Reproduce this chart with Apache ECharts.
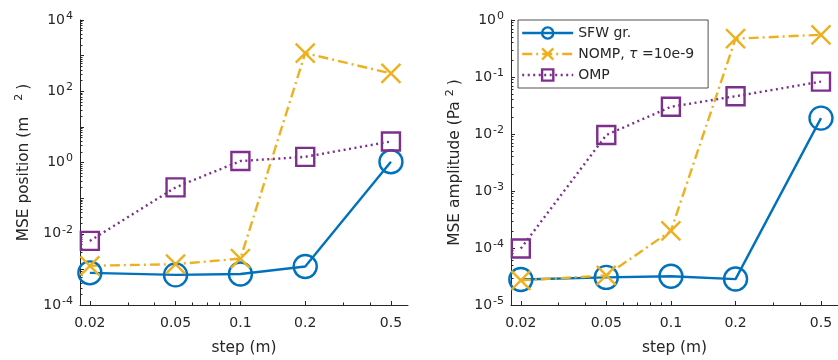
<!DOCTYPE html>
<html>
<head>
<meta charset="utf-8">
<script src="https://cdn.jsdelivr.net/npm/echarts@6/dist/echarts.min.js"></script>
<style>
  html, body { margin: 0; padding: 0; background: #fff; }
  #chart { width: 838px; height: 360px; }
</style>
</head>
<body>
<div id="chart"></div>
<script>
// Step sizes (m)
const steps = [0.02, 0.05, 0.1, 0.2, 0.5];
const stepTicks = [0.02, 0.05, 0.1, 0.2, 0.5];
const stepMinorTicks = [0.03, 0.04, 0.06, 0.07, 0.08, 0.09, 0.3, 0.4];

// MSE of the estimated positions (m^2)
const posSFW = [8.0e-4, 7.0e-4, 7.4e-4, 1.2e-3, 1.05];
const posNOMP = [1.26e-3, 1.4e-3, 2.0e-3, 1180, 316];
const posOMP = [6.3e-3, 0.2, 1.1, 1.44, 3.9];

// MSE of the estimated amplitudes (Pa^2)
const ampSFW = [2.8e-5, 3.05e-5, 3.2e-5, 2.85e-5, 0.019];
const ampNOMP = [2.7e-5, 3.3e-5, 2.0e-4, 0.47, 0.55];
const ampOMP = [9.8e-5, 0.0096, 0.030, 0.046, 0.083];

const seriesNames = ['SFW gr.', 'NOMP, τ =10e-9', 'OMP'];

const FONT = 'DejaVu Sans';
const INK = '#262626';
const BLUE = '#0072BD', YELLOW = '#EDB120', PURPLE = '#7E2F8E';
const CROSS = 'path://M0,0L10,10M10,0L0,10';
const LW = 2.4;
const TICK_FS = 14, NAME_FS = 15.4;

function decades(lo, hi) {
  const major = [], minor = [];
  for (let e = lo; e <= hi; e++) {
    major.push(Math.pow(10, e));
    if (e < hi) for (let k = 2; k <= 9; k++) minor.push(k * Math.pow(10, e));
  }
  return { major, minor };
}

const supRich = {
  b: { fontFamily: FONT, fontSize: TICK_FS, color: INK },
  s: { fontFamily: FONT, fontSize: 11, color: INK, padding: [0, 0, 8, 1] }
};

function powLabel(step) {
  return function (v) {
    const e = Math.round(Math.log10(v));
    if (e % step !== 0) return '';
    return '{b|10}{s|' + e + '}';
  };
}

function xAxes(gridIndex) {
  return [{
    type: 'log', logBase: 10, gridIndex, min: 0.018, max: 0.6, position: 'bottom',
    name: 'step (m)', nameLocation: 'middle', nameGap: 35,
    nameTextStyle: { fontFamily: FONT, fontSize: NAME_FS, color: INK },
    axisLine: { show: true, lineStyle: { color: INK, width: 1 } },
    axisTick: { show: true, inside: true, length: 4, customValues: stepTicks, lineStyle: { color: INK } },
    axisLabel: { customValues: stepTicks, fontFamily: FONT, fontSize: TICK_FS, color: INK, margin: 11,
      formatter: v => String(v) },
    splitLine: { show: false }
  }, {
    type: 'log', logBase: 10, gridIndex, min: 0.018, max: 0.6, position: 'bottom',
    axisLine: { show: false },
    axisTick: { show: true, inside: true, length: 2.5, customValues: stepMinorTicks, lineStyle: { color: INK } },
    axisLabel: { show: false },
    splitLine: { show: false }
  }];
}

function yAxes(gridIndex, lo, hi, labelStep, name, gap) {
  const d = decades(lo, hi);
  return [{
    type: 'log', logBase: 10, gridIndex, min: Math.pow(10, lo), max: Math.pow(10, hi), position: 'left',
    name, nameLocation: 'middle', nameGap: 46,
    nameTextStyle: { fontFamily: FONT, fontSize: NAME_FS, color: INK,
      rich: { s: { fontFamily: FONT, fontSize: 11, color: INK, padding: [0, 4, 9, gap] } } },
    axisLine: { show: true, lineStyle: { color: INK, width: 1 } },
    axisTick: { show: true, inside: true, length: 4, customValues: d.major, lineStyle: { color: INK } },
    axisLabel: { customValues: d.major, formatter: powLabel(labelStep), rich: supRich, margin: 7 },
    splitLine: { show: false }
  }, {
    type: 'log', logBase: 10, gridIndex, min: Math.pow(10, lo), max: Math.pow(10, hi), position: 'left',
    axisLine: { show: false },
    axisTick: { show: true, inside: true, length: 2.5, customValues: d.minor, lineStyle: { color: INK } },
    axisLabel: { show: false },
    splitLine: { show: false }
  }];
}

function pairs(ys) { return steps.map((x, i) => [x, ys[i]]); }

function mkSeries(name, ys, color, symbol, size, dash, xi, yi) {
  return {
    name, type: 'line', xAxisIndex: xi, yAxisIndex: yi,
    data: pairs(ys), symbol, symbolSize: size, clip: false,
    lineStyle: { color, width: LW, type: dash },
    itemStyle: { color: 'rgba(0,0,0,0)', borderColor: color, borderWidth: LW },
    emphasis: { disabled: true }
  };
}

function seriesFor(vals, xi, yi) {
  return [
    mkSeries(seriesNames[0], vals[0], BLUE, 'circle', 23, 'solid', xi, yi),
    mkSeries(seriesNames[1], vals[1], YELLOW, CROSS, 19, [10, 4, 2, 4], xi, yi),
    mkSeries(seriesNames[2], vals[2], PURPLE, 'rect', 18, [2, 3.5], xi, yi)
  ];
}

const chart = echarts.init(document.getElementById('chart'), null, { renderer: 'canvas' });
chart.setOption({
  animation: false,
  backgroundColor: '#fff',
  grid: [
    { left: 80, top: 20, width: 328, height: 288 },
    { left: 511, top: 20, width: 329, height: 289 }
  ],
  xAxis: [...xAxes(0), ...xAxes(1)],
  yAxis: [
    ...yAxes(0, -4, 4, 2, 'MSE position (m{s|2})', 16),
    ...yAxes(1, -5, 0, 1, 'MSE amplitude (Pa{s|2})', 5)
  ],
  legend: {
    data: seriesNames,
    orient: 'vertical', left: 518, top: 20,
    backgroundColor: '#fff', borderColor: INK, borderWidth: 0.8, borderRadius: 0,
    padding: [6, 14, 6, 3], itemGap: 7, itemWidth: 51, itemHeight: 14,
    selectedMode: false,
    itemStyle: { borderWidth: LW },
    lineStyle: { width: LW },
    textStyle: { fontFamily: FONT, fontSize: 14, color: INK,
      rich: { i: { fontFamily: FONT, fontStyle: 'italic', fontSize: 14, color: INK } } },
    formatter: n => n.replace('τ', '{i|τ}')
  },
  series: [
    ...seriesFor([posSFW, posNOMP, posOMP], 0, 0),
    ...seriesFor([ampSFW, ampNOMP, ampOMP], 2, 2)
  ]
});
</script>
</body>
</html>
